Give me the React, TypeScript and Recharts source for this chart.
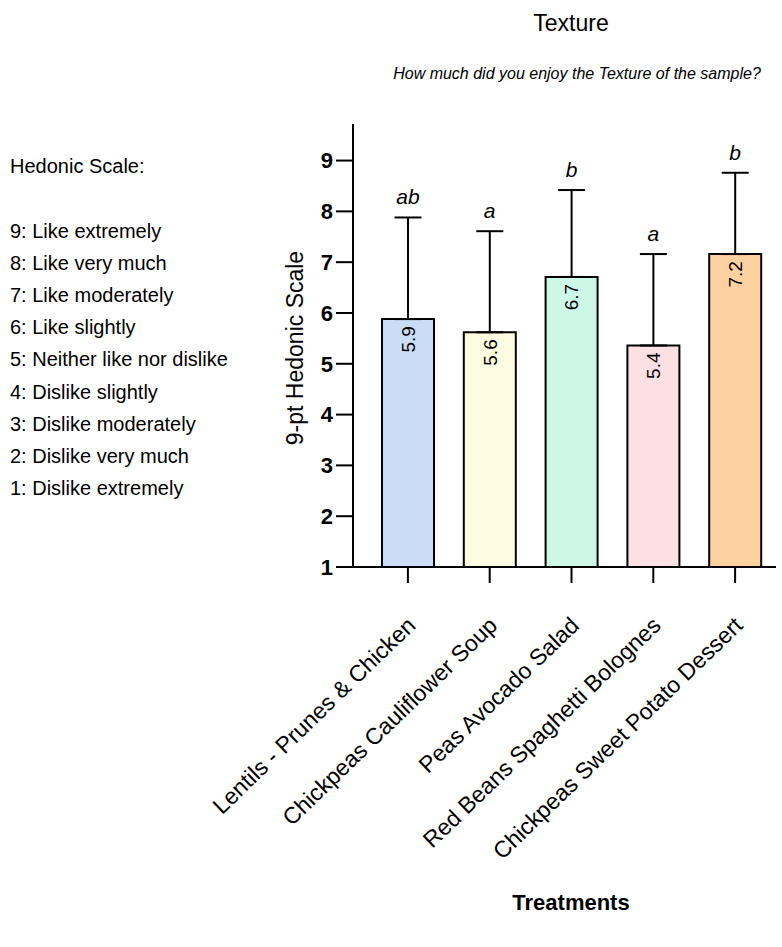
import React from 'react';
import { ComposedChart, Bar, XAxis, YAxis, ErrorBar, Cell, LabelList, Scatter } from 'recharts';

const categories = [
  'Lentils - Prunes & Chicken',
  'Chickpeas Cauliflower Soup',
  'Peas Avocado Salad',
  'Red Beans Spaghetti Bolognes',
  'Chickpeas Sweet Potato Dessert',
];
const means = [5.88, 5.62, 6.71, 5.36, 7.16];
const meanLabels = ['5.9', '5.6', '6.7', '5.4', '7.2'];
const sds = [2.0, 1.99, 1.71, 1.8, 1.6];
const letters = ['ab', 'a', 'b', 'a', 'b'];
const colors = ['#c9ddf6', '#fffde1', '#cdf7e7', '#fde0e3', '#fdd1a0'];
const yTicks = [1, 2, 3, 4, 5, 6, 7, 8, 9];
const scaleTitle = 'Hedonic Scale:';
const scaleLines = [
  '9: Like extremely',
  '8: Like very much',
  '7: Like moderately',
  '6: Like slightly',
  '5: Neither like nor dislike',
  '4: Dislike slightly',
  '3: Dislike moderately',
  '2: Dislike very much',
  '1: Dislike extremely',
];

const data = categories.map((name, i) => ({
  name,
  mean: means[i],
  err: [0, sds[i]],
  top: means[i] + sds[i],
  label: meanLabels[i],
  letter: letters[i],
}));

const FONT = '"Liberation Sans", Arial, Helvetica, sans-serif';

const XTick = (props: any) => {
  const { x, y, payload } = props;
  return (
    <g transform={`translate(${x + 9},${y + 42})`}>
      <text textAnchor="end" transform="rotate(-44)" fontSize={23} fontFamily={FONT} fill="#000">
        {payload.value}
      </text>
    </g>
  );
};

const ValueLabel = (props: any) => {
  const { x, y, width, value } = props;
  const cx = x + width / 2;
  const ty = y + 7;
  return (
    <text
      x={cx}
      y={ty}
      dy="0.36em"
      textAnchor="end"
      transform={`rotate(-90, ${cx}, ${ty})`}
      fontSize={19}
      fontFamily={FONT}
      fill="#000"
    >
      {value}
    </text>
  );
};

const LetterShape = (props: any) => {
  const { cx, cy, payload } = props;
  return (
    <text x={cx} y={cy - 13} textAnchor="middle" fontSize={21} fontStyle="italic" fontFamily={FONT} fill="#000">
      {payload.letter}
    </text>
  );
};

export default function App() {
  return (
    <div style={{ position: 'absolute', left: 0, top: 0, width: 782, height: 947, background: '#fff', fontFamily: FONT }}>
      <ComposedChart width={782} height={947} data={data} margin={{ top: 124, right: 6, left: 0, bottom: 0 }}>
        <XAxis
          dataKey="name"
          type="category"
          interval={0}
          height={380}
          padding={{ left: 14, right: 0 }}
          tickSize={16}
          axisLine={{ stroke: '#000', strokeWidth: 2 }}
          tickLine={{ stroke: '#000', strokeWidth: 2 }}
          tick={<XTick />}
        />
        <YAxis
          type="number"
          domain={[1, 9.72]}
          ticks={yTicks}
          width={353}
          tickSize={17}
          tickMargin={3}
          axisLine={{ stroke: '#000', strokeWidth: 2 }}
          tickLine={{ stroke: '#000', strokeWidth: 2 }}
          tick={{ fontSize: 22, fontWeight: 'bold', fill: '#000', fontFamily: FONT }}
        />
        <Bar dataKey="mean" barSize={52} stroke="#000" strokeWidth={2} isAnimationActive={false}>
          {data.map((d, i) => (
            <Cell key={d.name} fill={colors[i]} />
          ))}
          <ErrorBar dataKey="err" width={13.5} stroke="#000" strokeWidth={2} direction="y" />
          <LabelList dataKey="label" content={<ValueLabel />} />
        </Bar>
        <Scatter dataKey="top" shape={<LetterShape />} isAnimationActive={false} />
      </ComposedChart>
      <svg
        width={782}
        height={947}
        style={{ position: 'absolute', left: 0, top: 0, pointerEvents: 'none' }}
        fontFamily={FONT}
      >
        <text x={571} y={31} textAnchor="middle" fontSize={23} fill="#000">Texture</text>
        <text x={577} y={79} textAnchor="middle" fontSize={16} fontStyle="italic" fill="#000">
          How much did you enjoy the Texture of the sample?
        </text>
        <text x={10} y={173} fontSize={20} fill="#000">{scaleTitle}</text>
        {scaleLines.map((l, i) => (
          <text key={l} x={10} y={238 + i * 32.1} fontSize={20} fill="#000">{l}</text>
        ))}
        <text x={303} y={348} textAnchor="middle" transform="rotate(-90, 303, 348)" fontSize={23} fill="#000">
          9-pt Hedonic Scale
        </text>
        <text x={571} y={910} textAnchor="middle" fontSize={22} fontWeight="bold" fill="#000">Treatments</text>
      </svg>
    </div>
  );
}
